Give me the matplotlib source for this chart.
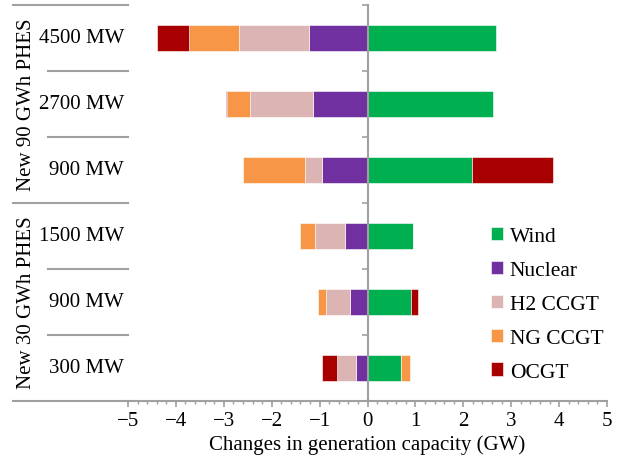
import numpy as np
import matplotlib
matplotlib.use("Agg")
import matplotlib.pyplot as plt
from matplotlib.ticker import MultipleLocator
from matplotlib.patches import Patch

plt.rcParams['font.family'] = ['Liberation Serif', 'DejaVu Serif']

# rows from top to bottom
rows = ['4500 MW', '2700 MW', '900 MW', '1500 MW', '900 MW', '300 MW']
groups = ['New 90 GWh PHES', 'New 30 GWh PHES']

techs = ['Wind', 'Nuclear', 'H2 CCGT', 'NG CCGT', 'OCGT']
colors = ['#00AF50', '#7030A0', '#DDB4B4', '#F79646', '#A80000']

# change in capacity (GW) per row
wind = [2.68, 2.63, 2.18, 0.96, 0.90, 0.69]
nuclear = [-1.23, -1.13, -0.94, -0.46, -0.375, -0.24]
h2_ccgt = [-1.46, -1.33, -0.37, -0.63, -0.50, -0.40]
ng_ccgt = [-1.03, -0.47, -1.29, -0.32, -0.15, 0.20]
ocgt = [-0.68, -0.02, 1.69, 0.0, 0.15, -0.32]

series = [wind, nuclear, h2_ccgt, ng_ccgt, ocgt]

fig = plt.figure(figsize=(6.19, 4.6), dpi=100)
W, H = 619, 460
x0, x1, ytop, ybot = 128, 607, 6, 402
ax = fig.add_axes([x0 / W, 1 - ybot / H, (x1 - x0) / W, (ybot - ytop) / H])

grey = '#A0A0A0'
fs = 15

# stacked bars, positive and negative stacked separately
ypos = np.arange(len(rows)) + 0.5
pos_base = np.zeros(len(rows))
neg_base = np.zeros(len(rows))
for vals, c in zip(series, colors):
    vals = np.array(vals)
    left = np.where(vals >= 0, pos_base, neg_base)
    ax.barh(ypos, vals, left=left, height=0.4, color=c,
            edgecolor='white', linewidth=0.4)
    pos_base += np.clip(vals, 0, None)
    neg_base += np.clip(vals, None, 0)

ax.set_xlim(-5, 5)
ax.set_ylim(len(rows), 0)

# spines
for s in ['top', 'right']:
    ax.spines[s].set_visible(False)
ax.spines['left'].set_position(('data', 0))
ax.spines['left'].set_color(grey)
ax.spines['left'].set_linewidth(1.5)
ax.spines['bottom'].set_color(grey)
ax.spines['bottom'].set_linewidth(1.5)

ax.set_yticks(np.arange(len(rows) + 1))
ax.set_yticklabels([])
ax.tick_params(axis='y', direction='out', length=4, width=1.2, color=grey)

ax.xaxis.set_major_locator(MultipleLocator(1))
ax.xaxis.set_minor_locator(MultipleLocator(0.2))
ax.tick_params(axis='x', which='major', direction='out', length=4,
               width=1.2, color=grey, labelsize=fs, pad=3)
ax.tick_params(axis='x', which='minor', direction='out', length=2.3,
               width=1.0, color=grey)
ax.set_xlabel('Changes in generation capacity (GW)', fontsize=fs, labelpad=3)

# category table on the left
tr = ax.get_yaxis_transform()
fx = lambda px: (px - x0) / (x1 - x0)
for y in [0, 3, 6]:
    ax.plot([fx(13), 0], [y, y], color=grey, lw=1.5, transform=tr,
            clip_on=False)
for y in [1, 2, 4, 5]:
    ax.plot([fx(48), 0], [y, y], color=grey, lw=1.5, transform=tr,
            clip_on=False)
for y, lab in zip(ypos, rows):
    ax.text(fx(124), y, lab, transform=tr, ha='right', va='center',
            fontsize=fs)
for i, g in enumerate(groups):
    ax.text(fx(27), 3 * i + 1.5, g, transform=tr, ha='center', va='center',
            rotation=90, fontsize=fs)

# legend
handles = [Patch(facecolor=c, edgecolor='white', linewidth=0.4)
           for c in colors]
ax.legend(handles, techs, loc='upper left', frameon=False, fontsize=15.5,
          bbox_to_anchor=(fx(491), 1 - (228 - ytop) / (ybot - ytop)),
          borderpad=0, borderaxespad=0, handlelength=0.57, handleheight=0.57,
          handletextpad=0.3, labelspacing=0.68)

fig.savefig('out.png', dpi=100)
